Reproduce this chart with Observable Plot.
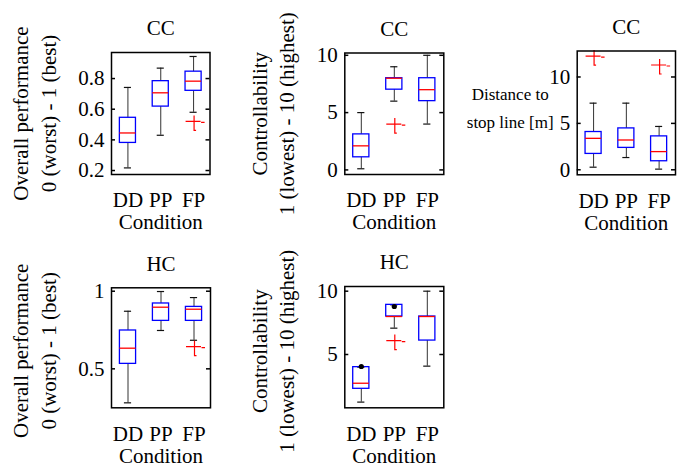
<!DOCTYPE html>
<html><head><meta charset="utf-8">
<script src="https://cdn.jsdelivr.net/npm/d3@7"></script>
<script src="https://cdn.jsdelivr.net/npm/@observablehq/plot@0.6"></script>
<style>
body{margin:0;background:#fff;}
#fig{position:relative;width:689px;height:468px;overflow:hidden;background:#fff;}
#fig svg{position:absolute;left:0;top:0;}
</style></head><body><div id="fig"></div>
<script>
const conditions = ["DD", "PP", "FP"];
// five-number summaries per condition: [lower whisker, Q1, median, Q3, upper whisker]
const ccPerformance = [[0.217, 0.38, 0.445, 0.544, 0.742], [0.43, 0.617, 0.707, 0.783, 0.868], [0.58, 0.72, 0.783, 0.845, 0.944]];
const ccPerformanceOutliers = [["FP", 0.52]];
const ccControl = [[0.1, 1.1, 2.1, 3.1, 5.0], [6.0, 7.0, 8.0, 8.0, 9.0], [4.0, 6.0, 7.0, 8.0, 10.0]];
const ccControlOutliers = [["PP", 4.0]];
const ccDistance = [[0.28, 1.71, 3.39, 4.07, 7.18], [1.32, 2.36, 3.21, 4.46, 7.18], [0.07, 0.92, 1.96, 3.6, 4.67]];
const ccDistanceOutliers = [["DD", 12.25], ["FP", 11.29]];
const hcPerformance = [[0.281, 0.532, 0.633, 0.747, 0.871], [0.747, 0.809, 0.897, 0.921, 0.998], [0.684, 0.809, 0.884, 0.899, 0.959]];
const hcPerformanceOutliers = [["FP", 0.643]];
const hcControl = [[1.24, 2.29, 2.73, 4.0, 4.0], [7.08, 8.0, 8.0, 8.92, 8.92], [4.08, 6.1, 8.0, 8.0, 10.0]];
const hcControlOutliers = [["PP", 6.1]];
const hcControlDots = [["DD", 4.05], ["PP", 8.79]];
// tick labels
const perfTicksCC = [0.2, 0.4, 0.6, 0.8];
const perfTicksHC = [0.5, 1];
const controlTicksCC = [0, 5, 10];
const controlTicksHC = [5, 10];
const distanceTicks = [0, 5, 10];

const W = 689, H = 468;
const FONT = "'Liberation Serif', 'Times New Roman', serif";
const plusSym = {
  draw(ctx) {
    ctx.moveTo(-8, 0); ctx.lineTo(7, 0);
    ctx.moveTo(0.5, -6); ctx.lineTo(0.5, 9); ctx.lineTo(2.5, 9);
    ctx.moveTo(7.5, 1); ctx.lineTo(11, 1);
  }
};

function panel({boxes, outliers = [], dots = [], domain, ticks, frame, title, ylabel, ylabelDx, ylabelDy = 0, rotate = -90, lineHeight = 1.35, ylabelSize = 21}) {
  const [l, r, t, b] = frame;
  const fw = r - l;
  const rows = boxes.map((s, i) => ({c: conditions[i], lo: s[0], q1: s[1], med: s[2], q3: s[3], hi: s[4]}));
  const svg = Plot.plot({
    width: W, height: H,
    marginLeft: l, marginRight: W - r, marginTop: t, marginBottom: H - b,
    style: {background: "transparent", overflow: "visible"},
    x: {type: "band", domain: conditions, paddingInner: 0.51, paddingOuter: 0.255, round: false, tickSize: 0, tickPadding: 18, label: null},
    y: {domain, ticks, tickSize: 0, tickPadding: 7, label: null, tickFormat: d => `${d}`},
    marks: [
      Plot.ruleX(rows, {x: "c", y1: "lo", y2: "q1", stroke: "#333", strokeWidth: 1}),
      Plot.ruleX(rows, {x: "c", y1: "q3", y2: "hi", stroke: "#333", strokeWidth: 1}),
      Plot.tickY(rows, {x: "c", y: "lo", insetLeft: 4.5, insetRight: 4.5, stroke: "#111", strokeWidth: 1.2}),
      Plot.tickY(rows, {x: "c", y: "hi", insetLeft: 4.5, insetRight: 4.5, stroke: "#111", strokeWidth: 1.2}),
      Plot.barY(rows, {x: "c", y1: "q1", y2: "q3", fill: "none", stroke: "#0000ff", strokeWidth: 1.3}),
      Plot.tickY(rows, {x: "c", y: "med", stroke: "#ff0000", strokeWidth: 1.3}),
      Plot.dot(outliers, {x: d => d[0], y: d => d[1], symbol: plusSym, r: 4, stroke: "#ff0000", fill: "none", strokeWidth: 1.2}),
      Plot.dot(dots, {x: d => d[0], y: d => d[1], r: 2.6, fill: "black", stroke: "none"}),
      Plot.frame({stroke: "black", strokeWidth: 1.5}),
      Plot.tickY(ticks, {y: d => d, insetRight: fw - 4, stroke: "black", strokeWidth: 1.5}),
      Plot.tickY(ticks, {y: d => d, insetLeft: fw - 4, stroke: "black", strokeWidth: 1.5}),
      Plot.text([title], {frameAnchor: "top", dy: -24, lineAnchor: "middle", fontSize: 21, fontFamily: FONT}),
      Plot.text(["Condition"], {frameAnchor: "bottom", dy: 48, lineAnchor: "middle", fontSize: 21, fontFamily: FONT}),
      Plot.text([ylabel], {frameAnchor: "left", rotate, dx: ylabelDx, dy: ylabelDy, lineHeight, textAnchor: "middle", lineAnchor: "middle", fontSize: ylabelSize, fontFamily: FONT})
    ]
  });
  svg.setAttribute("font-family", FONT);
  svg.setAttribute("font-size", "21");
  svg.querySelectorAll("[aria-label$='tick label']").forEach(g => { g.setAttribute("font-family", FONT); g.setAttribute("font-size", "21"); });
  return svg;
}

const fig = document.getElementById("fig");
fig.append(panel({boxes: ccPerformance, outliers: ccPerformanceOutliers, domain: [0.174, 0.97], ticks: perfTicksCC,
  frame: [111, 209.5, 52, 174], title: "CC", ylabel: "Overall performance\n0 (worst) - 1 (best)", ylabelDx: -78.5}));
fig.append(panel({boxes: ccControl, outliers: ccControlOutliers, domain: [-0.4, 10.2], ticks: controlTicksCC,
  frame: [344.3, 443.3, 52.5, 174], title: "CC", ylabel: "Controllability\n1 (lowest) - 10 (highest)", ylabelDx: -73, lineHeight: 1.3}));
fig.append(panel({boxes: ccDistance, outliers: ccDistanceOutliers, domain: [-0.54, 12.8], ticks: distanceTicks,
  frame: [576.7, 675, 50.5, 174.3], title: "CC", ylabel: "Distance to\nstop line [m]", ylabelDx: -67, ylabelDy: -8, rotate: 0, lineHeight: 1.65, ylabelSize: 17}));
fig.append(panel({boxes: hcPerformance, outliers: hcPerformanceOutliers, domain: [0.249, 1.022], ticks: perfTicksHC,
  frame: [111, 210, 287.3, 407.3], title: "HC", ylabel: "Overall performance\n0 (worst) - 1 (best)", ylabelDx: -78.5, ylabelDy: 3}));
fig.append(panel({boxes: hcControl, outliers: hcControlOutliers, dots: hcControlDots, domain: [0.79, 10.37], ticks: controlTicksHC,
  frame: [344.3, 443.3, 286, 407.3], title: "HC", ylabel: "Controllability\n1 (lowest) - 10 (highest)", ylabelDx: -73, ylabelDy: 4, lineHeight: 1.3}));
</script>
</body></html>
